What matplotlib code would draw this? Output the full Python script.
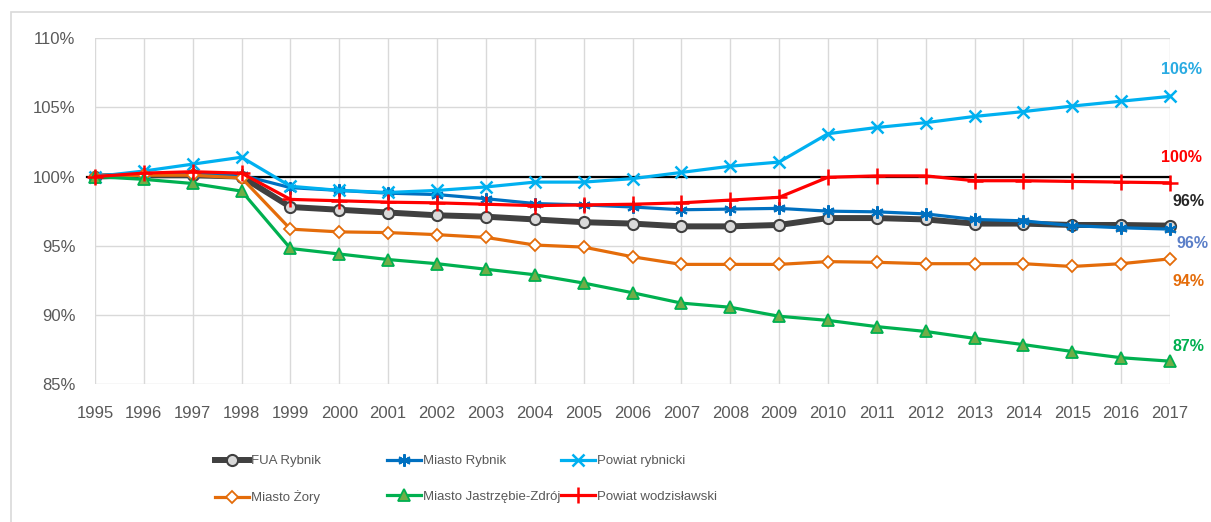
import matplotlib.pyplot as plt
from matplotlib.patches import Rectangle

# population index, 1995 = 100%
years = list(range(1995, 2018))

fua_rybnik = [100.0, 100.1, 100.1, 100.0, 97.8, 97.6, 97.4, 97.2, 97.1, 96.9, 96.7, 96.6,
              96.4, 96.4, 96.5, 97.0, 97.0, 96.9, 96.6, 96.6, 96.5, 96.5, 96.45]
miasto_rybnik = [100.0, 100.2, 100.2, 100.1, 99.2, 99.0, 98.8, 98.7, 98.4, 98.05, 97.95, 97.8,
                 97.6, 97.65, 97.7, 97.5, 97.45, 97.3, 96.9, 96.8, 96.45, 96.3, 96.2]
powiat_rybnicki = [100.0, 100.4, 100.9, 101.4, 99.3, 99.0, 98.85, 99.0, 99.25, 99.6, 99.6, 99.85,
                   100.3, 100.75, 101.05, 103.1, 103.55, 103.9, 104.35, 104.7, 105.1, 105.45, 105.8]
miasto_zory = [100.0, 100.1, 100.1, 99.9, 96.2, 96.0, 95.95, 95.8, 95.6, 95.05, 94.9, 94.2,
               93.65, 93.65, 93.65, 93.85, 93.8, 93.7, 93.7, 93.7, 93.5, 93.7, 94.05]
jastrzebie = [100.0, 99.8, 99.5, 98.95, 94.8, 94.4, 94.0, 93.7, 93.3, 92.9, 92.3, 91.6,
              90.85, 90.55, 89.9, 89.6, 89.15, 88.8, 88.3, 87.85, 87.35, 86.9, 86.65]
powiat_wodzislawski = [100.0, 100.25, 100.35, 100.25, 98.35, 98.25, 98.15, 98.1, 98.0, 97.9, 97.95, 98.0,
                       98.1, 98.3, 98.5, 99.95, 100.05, 100.05, 99.7, 99.7, 99.65, 99.6, 99.55]

series_names = ["FUA Rybnik", "Miasto Rybnik", "Powiat rybnicki",
                "Miasto Żory", "Miasto Jastrzębie-Zdrój", "Powiat wodzisławski"]
series_values = [fua_rybnik, miasto_rybnik, powiat_rybnicki,
                 miasto_zory, jastrzebie, powiat_wodzislawski]

y_ticks = [85, 90, 95, 100, 105, 110]

plt.rcParams['font.family'] = ['Liberation Sans', 'DejaVu Sans']

# line style per series: color, lw, marker, marker face, marker edge, marker size
styles = [
    dict(color='#404040', lw=4.3, marker='o', mfc='#d9d9d9', mec='#404040', ms=8, mew=1.5),
    dict(color='#0070c0', lw=2.3, marker=(6, 2, 0), mfc='#0070c0', mec='#0070c0', ms=9, mew=1.5),
    dict(color='#00b0f0', lw=2.3, marker='x', mfc='#00b0f0', mec='#00b0f0', ms=9, mew=1.8),
    dict(color='#e46c0a', lw=2.3, marker='D', mfc='white', mec='#e46c0a', ms=6, mew=1.3),
    dict(color='#00b050', lw=2.3, marker='^', mfc='#70ad47', mec='#00b050', ms=8, mew=1.3),
    dict(color='#ff0000', lw=2.3, marker='+', mfc='#ff0000', mec='#ff0000', ms=11, mew=1.8),
]

# end labels: color and pixel offset from the last point
label_colors = ['#262626', '#5b7fc8', '#29abe2', '#e46c0a', '#00b050', '#ff0000']
label_offsets = [(2, 24), (6, -14), (-9, 27), (2, -23), (2, 15), (-9, 25)]

fig = plt.figure(figsize=(12.11, 5.22), dpi=100)
ax = fig.add_axes([95 / 1211, 1 - 384 / 522, (1170 - 95) / 1211, (384 - 38.3) / 522])

# outer chart border
fig.patches.append(Rectangle((11 / 1211, -0.1), 1.2, 1.1 - 12 / 522, transform=fig.transFigure,
                             fill=False, edgecolor='#d9d9d9', lw=1.2, clip_on=False))

ax.axhline(100, xmin=-0.007, color='black', lw=1.6, zorder=2, clip_on=False)

handles = []
for name, vals, st in zip(series_names, series_values, styles):
    h, = ax.plot(years, vals, color=st['color'], lw=st['lw'], marker=st['marker'],
                 markerfacecolor=st['mfc'], markeredgecolor=st['mec'], markersize=st['ms'],
                 markeredgewidth=st['mew'], label=name, clip_on=False, zorder=3)
    handles.append(h)

for vals, col, off in zip(series_values, label_colors, label_offsets):
    ax.annotate(f"{vals[-1]:.0f}%", (years[-1], vals[-1]), xytext=off, textcoords='offset pixels',
                ha='left', va='center', color=col, fontsize=11.5, fontweight='bold',
                annotation_clip=False)

ax.set_xlim(years[0], years[-1])
ax.set_ylim(y_ticks[0], y_ticks[-1])
ax.set_xticks(years)
ax.set_yticks(y_ticks)
ax.set_yticklabels([f"{t}%" for t in y_ticks])
ax.grid(True, color='#d9d9d9', lw=1)
ax.set_axisbelow(True)
for s in ax.spines.values():
    s.set_visible(False)
ax.tick_params(axis='both', length=0, labelsize=12, colors='#595959')
ax.tick_params(axis='y', pad=14)
ax.tick_params(axis='x', pad=16)

# legend: three columns with equal spacing, two rows each
col_x = [215, 387, 561]
for i, x in enumerate(col_x):
    leg = fig.legend([handles[i], handles[i + 3]], [series_names[i], series_names[i + 3]],
                     loc='upper left', bbox_to_anchor=(x / 1211, 1 - 455 / 522), frameon=False,
                     fontsize=9.5, handlelength=2.6, handletextpad=0.15, labelspacing=1.75,
                     borderaxespad=0, borderpad=0)
    for t in leg.get_texts():
        t.set_color('#595959')

fig.savefig('out.png', dpi=100)
